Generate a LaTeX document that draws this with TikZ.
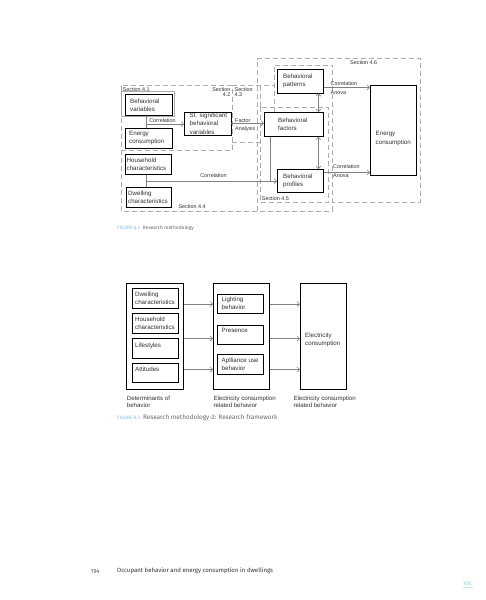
\documentclass[tikz,border=0pt]{standalone}
\usepackage{fontspec}
\setmainfont{Liberation Sans}
\newfontfamily\capfont[Numbers=Lining]{Fira Sans}
\usetikzlibrary{arrows.meta,calc}
\definecolor{dashc}{HTML}{ABABAB}
\definecolor{linec}{HTML}{808080}
\definecolor{capblue}{HTML}{86BFE0}
\definecolor{capgray}{HTML}{6A6A6A}
\definecolor{txtc}{HTML}{303030}
\newcommand\cbox[7]{%
  \node[bx,minimum width=#4pt,minimum height=#5pt,anchor=north west] (#1) at (#2,#3) {};
  \node[btxt,anchor=west] (#1t) at ($(#1.west)+(#6,0)$) {#7};}
\newcommand\tbox[8]{%
  \node[bx,minimum width=#4pt,minimum height=#5pt,anchor=north west] (#1) at (#2,#3) {};
  \node[btxt,anchor=north west] (#1t) at ($(#1.north west)+(#6,#7)$) {#8};}
\begin{document}
\begin{tikzpicture}[x=1pt,y=-1pt,
  bx/.style={draw=black,line width=0.8pt,inner sep=0pt,rectangle},
  btxt/.style={inner sep=0pt,align=left,font=\fontsize{6.2}{8.2}\selectfont,text=txtc},
  lbl/.style={inner sep=0pt,font=\fontsize{5.4}{5.4}\selectfont,text=txtc},
  blbl/.style={inner sep=0pt,align=left,font=\fontsize{6.1}{7}\selectfont,text=txtc},
  dsh/.style={draw=dashc,line width=0.6pt,dash pattern=on 5pt off 3pt},
  conn/.style={draw=linec,line width=0.6pt},
  arr/.style={conn,-{Straight Barb[length=2.5pt,width=5pt]}},
  darr/.style={conn,{Straight Barb[length=2.5pt,width=5pt]}-{Straight Barb[length=2.5pt,width=5pt]}},
  captxt/.style={inner sep=0pt,anchor=west}
]
\useasboundingbox (0,0) rectangle (486,600);
\fill[white] (0,0) rectangle (486,600);

% ---------- Figure 6.2: dashed section frames ----------
\draw[dsh] (121,85.5) rectangle (232,150);
\draw[draw=dashc,line width=0.5pt] (121.5,91.5) rectangle (174,116.5);
\draw[dsh] (232,85.5) -- (274,85.5);
\draw[dsh] (232,142) -- (260,142);
\draw[dsh] (260,85.5) -- (260,107);
\draw[dsh] (121,150) -- (121,211) -- (332,211) -- (332,65);
\draw[dsh] (257,211) -- (257,58.5) -- (420,58.5) -- (420,202) -- (332,202);
\draw[dsh] (274,112) -- (274,65) -- (332,65);
\draw[dsh] (260,107) rectangle (328.5,202);

% section labels
\node[lbl,anchor=north west] (s41) at (122.5,87.3) {Section 4.1};
\node[lbl,anchor=north east,align=right] (s42) at (230.5,87.3) {Section\\4.2};
\node[lbl,anchor=north west,align=left] (s43) at (234.5,87.3) {Section\\4.3};
\node[lbl,anchor=west] (s44) at (178.3,206.3) {Section 4.4};
\node[lbl,anchor=west] (s45) at (261.7,198.3) {Section 4.5};
\node[lbl,anchor=west] (s46) at (350,63) {Section 4.6};

% boxes
\cbox{bv}{125}{94}{47}{21}{5}{Behavioral\\variables}
\cbox{ec1}{125}{128}{47}{20}{4}{Energy\\consumption}
\cbox{hc}{125}{154}{46}{20}{1.5}{Household\\characteristics}
\cbox{dc}{125.5}{187}{45.5}{20}{2.5}{Dwelling\\characteristics}
\cbox{ss}{184}{112}{46.5}{22.5}{5.5}{St. significant\\behavioral\\variables}
\cbox{bp}{277}{69}{46}{23.5}{6}{Behavioral\\patterns}
\cbox{bf}{264}{112}{59}{24}{14}{Behavioral\\factors}
\cbox{bpr}{277}{169}{46}{23}{6}{Behavioral\\profiles}
\tbox{ecb}{370}{85}{46}{90}{5.5}{46.5}{Energy\\consumption}

% connectors
\coordinate (j1) at (146,124);
\draw[conn] (j1 |- bv.south) -- (j1 |- ec1.north);
\draw[arr] (j1) -- (j1 -| ss.west);
\node[lbl,anchor=south] (c1) at (162.5,122.6) {Correlation};

\coordinate (j2) at (0,123.3);
\draw[arr] (ss.east |- j2) -- (bf.west |- j2);
\node[lbl,anchor=south west] (fa1) at (235,122.3) {Factor};
\node[lbl,anchor=north west] (fa2) at (235,126) {Analysis};

\coordinate (j3) at (0,87.3);
\draw[arr] (bp.east |- j3) -- (ecb.west |- j3);
\node[lbl,anchor=south west] (c2) at (330.5,85.3) {Correlation};
\node[lbl,anchor=north west] (a2) at (330.5,90.7) {Anova};

\coordinate (j4) at (0,172.3);
\draw[arr] (bpr.east |- j4) -- (ecb.west |- j4);
\node[lbl,anchor=south west] (c3) at (333,168.7) {Correlation};
\node[lbl,anchor=north west] (a3) at (333,174) {Anova};

\coordinate (j5) at (146,181);
\draw[conn] (j5 |- hc.south) -- (j5 |- dc.north);
\draw[arr] (j5) -- (j5 -| bpr.west);
\node[lbl,anchor=south] (c4) at (213.5,177.6) {Correlation};
\coordinate (j6) at (270,181);
\draw[conn] (j6 |- bf.south) -- (j6);

\coordinate (j7) at (318.3,0);
\draw[darr] (j7 |- bp.south) -- (j7 |- bf.north);
\draw[darr] (j7 |- bf.south) -- (j7 |- bpr.north);

\node[captxt] (cap62) at (117,228.3) {\capfont\fontsize{4.8}{6}\selectfont\textcolor{capblue}{FIGURE 6.2}\hspace{3pt}\fontsize{4.9}{6}\selectfont\textcolor{capgray}{Research methodology}};

% ---------- Figure 6.3 ----------
\node[bx,minimum width=57pt,minimum height=106pt,anchor=north west] (lo) at (126,283) {};
\node[bx,minimum width=56pt,minimum height=106pt,anchor=north west] (mo) at (213,283) {};
\tbox{ro}{300}{283}{46}{106}{5}{50}{Electricity\\consumption}

\tbox{dch}{132}{288}{46}{20}{3}{3.8}{Dwelling\\characteristics}
\tbox{hch}{132}{313}{46}{20}{3}{3.8}{Household\\characteristics}
\tbox{lif}{132}{338}{46}{20}{3}{4.5}{Lifestyles}
\tbox{att}{132}{363}{46}{19}{3}{4}{Attitudes}
\tbox{lig}{217}{294}{46}{19}{4.5}{3}{Lighting\\behavior}
\tbox{pre}{217}{325}{46}{19}{4.5}{3}{Presence}
\tbox{app}{217}{354}{46}{20}{4.5}{3.8}{Aplliance use\\behavior}

\coordinate (y1) at (0,304);
\coordinate (y2) at (0,338.5);
\coordinate (y3) at (0,369.5);
\draw[arr] (lo.east |- y1) -- (mo.west |- y1);
\draw[arr] (lo.east |- y2) -- (mo.west |- y2);
\draw[arr] (lo.east |- y3) -- (mo.west |- y3);
\draw[arr] (mo.east |- y1) -- (ro.west |- y1);
\draw[arr] (mo.east |- y2) -- (ro.west |- y2);
\draw[arr] (mo.east |- y3) -- (ro.west |- y3);

\node[blbl,anchor=north west] (l1) at (126.7,395.5) {Determinants of\\behavior};
\node[blbl,anchor=north west] (l2) at (213.3,395.5) {Electricity consumption\\related behavior};
\node[blbl,anchor=north west] (l3) at (293.3,395.5) {Electricity consumption\\related behavior};

\node[captxt] (cap63) at (117,417.3) {\capfont\fontsize{4.8}{6}\selectfont\textcolor{capblue}{FIGURE 6.3}\hspace{3pt}\fontsize{6.4}{7}\selectfont\textcolor{capgray}{Research methodology-2: Research framework}};

% ---------- footer ----------
\node[inner sep=0pt,anchor=west,font=\capfont\fontsize{6.1}{7}\selectfont,text=black!65] (pg) at (90.5,571) {194};
\node[inner sep=0pt,anchor=west,font=\capfont\fontsize{6.05}{7}\selectfont,text=black!80] (ft) at (117,571) {Occupant behavior and energy consumption in dwellings};
\node[inner sep=0pt,anchor=west,font=\capfont\fontsize{5}{6}\selectfont,text=capblue] (toc) at (463,583.3) {TOC};
\draw[draw=capblue!40,line width=0.3pt] (toc.south west) ++(0,2) -- ++(10,0);
\end{tikzpicture}
\end{document}
